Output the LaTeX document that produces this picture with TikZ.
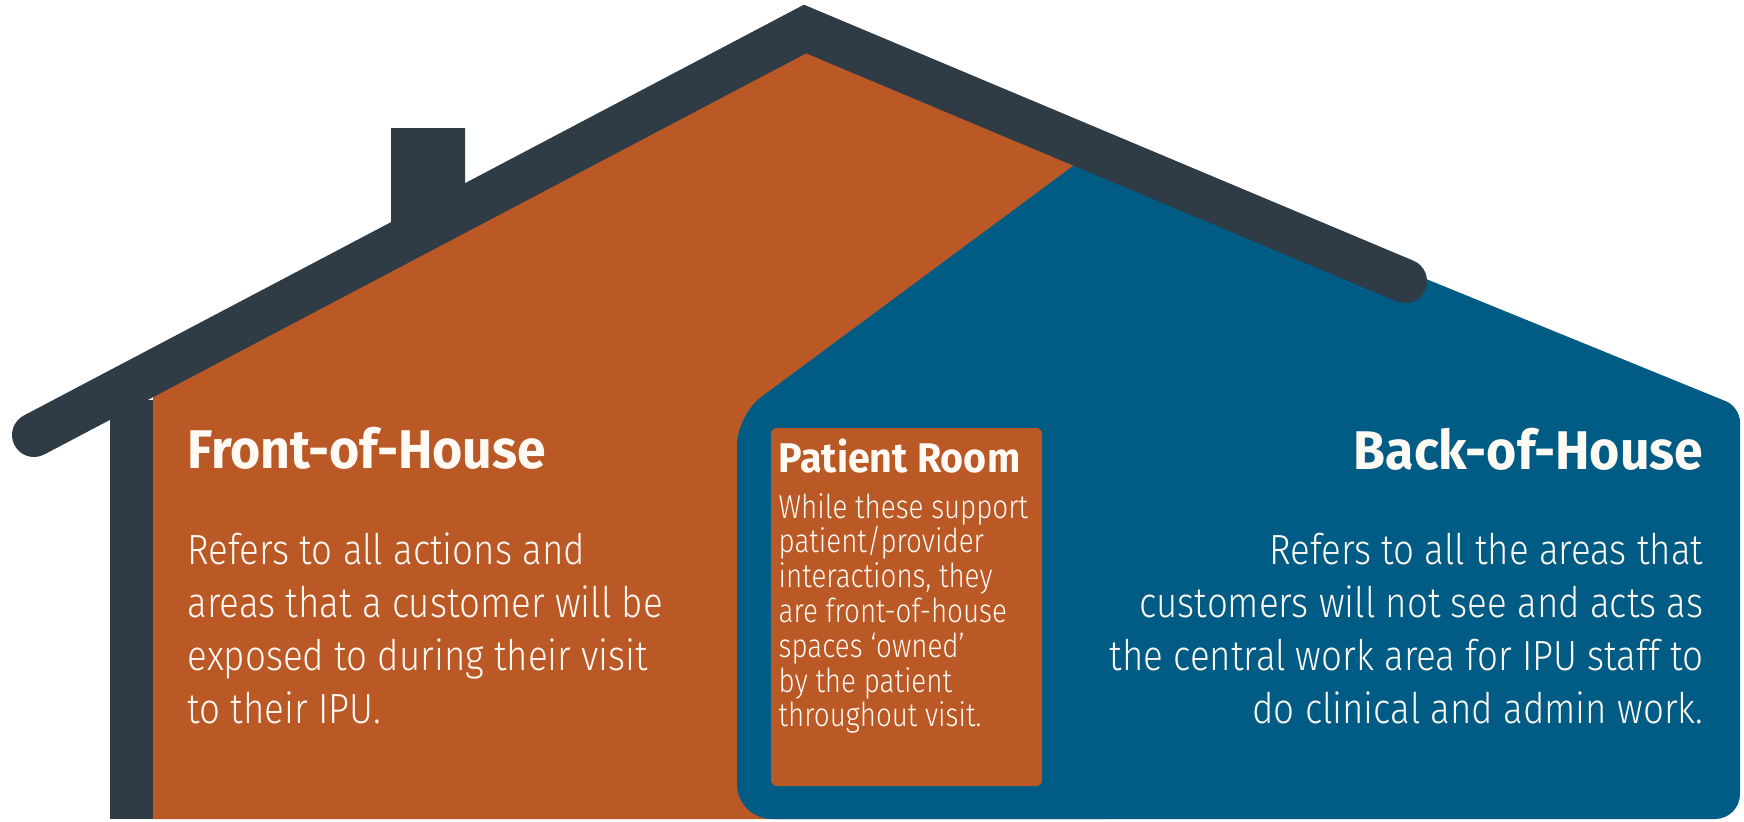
\documentclass[tikz,border=0pt]{standalone}
\usepackage{fontspec}
\setmainfont{Fira Sans}
\newfontfamily\headfont{Fira Sans Bold}[FakeStretch=0.95]
\newfontfamily\bodyfont{Fira Sans Light}[FakeStretch=0.87]
\newfontfamily\roomfont{Fira Sans Light}[FakeStretch=0.84]
\usetikzlibrary{positioning}

\definecolor{roofgrey}{RGB}{47,59,69}
\definecolor{fohorange}{RGB}{186,88,38}
\definecolor{bohblue}{RGB}{0,92,132}
\definecolor{labelwhite}{RGB}{255,250,244}

\begin{document}
\begin{tikzpicture}[x=0.1mm, y=-0.1mm,
    headtext/.style={text=labelwhite, inner sep=0pt, font=\headfont\fontsize{15.5}{17}\selectfont},
    bodytext/.style={text=labelwhite, inner sep=0pt, font=\bodyfont\fontsize{12}{14}\selectfont},
    roomhead/.style={text=labelwhite, inner sep=0pt, font=\headfont\fontsize{11.8}{13}\selectfont},
    roomtext/.style={text=labelwhite, inner sep=0pt, font=\roomfont\fontsize{9.4}{11}\selectfont}]
  \useasboundingbox (0,0) rectangle (1744,821);

  % --- House body ---
  % front part (orange)
  \fill[fohorange] (153,819) -- (153,373) -- (805,29) -- (1110,157) -- (1110,819) -- cycle;
  % back part (blue)
  \fill[bohblue] (1100,146) [rounded corners=3mm] -- (737,415)
    [rounded corners=3.5mm] -- (737,819) [rounded corners=2.5mm] -- (1740,819)
    [rounded corners=1.5mm] -- (1740,407) [sharp corners] -- cycle;

  % --- Chimney, wall and roof ---
  \fill[roofgrey] (391,128) -- (465,128) -- (465,208) -- (391,247) -- cycle;
  \fill[roofgrey] (110,400) rectangle (153,819);
  \draw[roofgrey, line width=4.4mm, line cap=round, line join=miter]
    (34,435) -- (805,29) -- (1405,281);

  % --- Patient room box ---
  \fill[fohorange, rounded corners=0.6mm] (771,428) rectangle (1042,786);

  % --- Front-of-House text ---
  \node[headtext, anchor=base west] (foh-title) at (187,468) {Front-of-House};
  \foreach \ln [count=\i] in {Refers to all actions and, areas that a customer will be,
      exposed to during their visit, to their IPU.}
    \node[bodytext, anchor=base west] (foh-\i) at (187,{564+53*(\i-1)}) {\ln};

  % --- Patient room text ---
  \node[roomhead, anchor=base west] (room-title) at (778,472) {Patient Room};
  \foreach \ln [count=\i] in {While these support, patient/provider, {interactions, they},
      are front-of-house, spaces ‘owned’, by the patient, throughout visit.}
    \node[roomtext, anchor=base west] (room-\i) at (778,{518+34.8*(\i-1)}) {\ln};

  % --- Back-of-House text ---
  \node[headtext, anchor=base east] (boh-title) at (1704,469) {Back-of-House};
  \foreach \ln [count=\i] in {Refers to all the areas that, customers will not see and acts as,
      the central work area for IPU staff to, do clinical and admin work.}
    \node[bodytext, anchor=base east] (boh-\i) at (1704,{564+53*(\i-1)}) {\ln};

\end{tikzpicture}
\end{document}
